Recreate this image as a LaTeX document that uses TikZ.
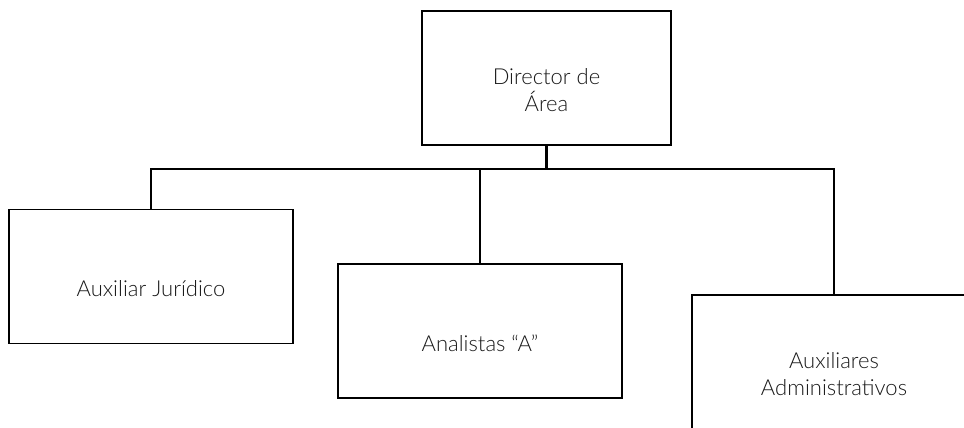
\documentclass[tikz,border=0pt]{standalone}
\usepackage{fontspec}
\setmainfont{Lato}[UprightFont=* Light]
\begin{document}
\begin{tikzpicture}[x=1pt,y=-1pt,
  unitbox/.style={draw=black,line width=1.3pt,minimum width=284pt,minimum height=134pt,inner sep=0pt},
  unittext/.style={font=\fontsize{22}{27}\selectfont,align=center,inner sep=0pt,text=black!90},
  link/.style={draw=black,line width=1.8pt}]
\clip (0,0) rectangle (964,428);
\fill[white] (0,0) rectangle (964,428);
% boxes
\node[unitbox,minimum width=249pt] (dir) at (546.5,78) {};
\node[unitbox] (jur) at (151,276.5) {};
\node[unitbox] (ana) at (480,331) {};
\node[unitbox] (adm) at (834,362) {};
% labels
\node[unittext] (tdir) at ([yshift=-12pt]dir.center) {Director de\\Área};
\node[unittext] (tjur) at ([yshift=-12.5pt]jur.center) {Auxiliar Jurídico};
\node[unittext] (tana) at ([yshift=-12.5pt]ana.center) {Analistas “A”};
\node[unittext] (tadm) at ([yshift=-12.5pt]adm.center) {Auxiliares\\Administrativos};
% connectors
\coordinate (bus) at (546,169);
\draw[link,line width=2.3pt] (dir.south) -- (dir.south |- bus);
\draw[link] (jur.north) -- (jur.north |- bus) -- (adm.north |- bus) -- (adm.north);
\draw[link] (ana.north) -- (ana.north |- bus);
\end{tikzpicture}
\end{document}
